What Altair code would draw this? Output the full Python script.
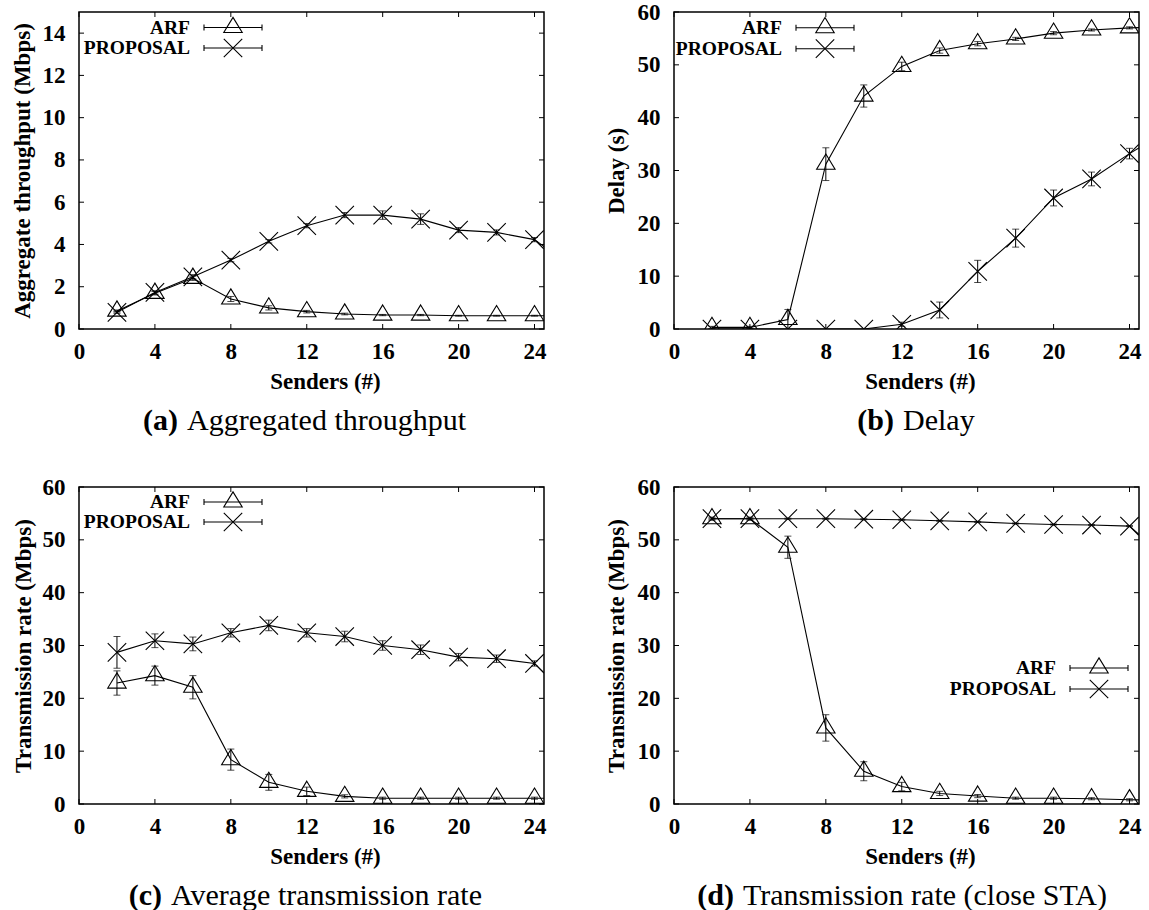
import altair as alt
import pandas as pd

# ---------------- data ----------------
SENDERS = [2, 4, 6, 8, 10, 12, 14, 16, 18, 20, 22, 24, 26]
SERIES = ["ARF", "PROPOSAL"]
X_TICKS = [0, 4, 8, 12, 16, 20, 24]
Y_TICKS_A = [0, 2, 4, 6, 8, 10, 12, 14]
Y_TICKS_60 = [0, 10, 20, 30, 40, 50, 60]

# (a) Aggregated throughput (Mbps)
A_ARF = [0.85, 1.69, 2.40, 1.42, 1.00, 0.82, 0.71, 0.66, 0.66, 0.63, 0.63, 0.63, 0.63]
A_ARF_ERR = [0.05, 0.08, 0.10, 0.12, 0.10, 0.06, 0.04, 0.03, 0.03, 0.02, 0.02, 0.02, 0]
A_PRO = [0.79, 1.73, 2.47, 3.26, 4.15, 4.89, 5.39, 5.39, 5.20, 4.68, 4.57, 4.23, 2.90]
A_PRO_ERR = [0.05, 0.08, 0.10, 0.08, 0.08, 0.10, 0.12, 0.20, 0.25, 0.12, 0.12, 0.10, 0]

# (b) Delay (s)
B_ARF = [0.3, 0.3, 1.8, 31.2, 44.1, 49.7, 52.7, 54.0, 54.9, 56.0, 56.6, 57.0, 57.2]
B_ARF_ERR = [0.2, 0.2, 1.9, 3.1, 2.1, 0.8, 0.5, 0.4, 0.3, 0.3, 0.2, 0.2, 0]
B_PRO = [0.0, 0.0, 0.0, 0.0, 0.0, 0.9, 3.6, 10.9, 17.2, 24.8, 28.4, 33.2, 37.6]
B_PRO_ERR = [0, 0, 0, 0, 0, 0.4, 1.5, 2.1, 1.7, 1.5, 1.3, 1.0, 0]

# (c) Average transmission rate (Mbps)
C_ARF = [22.9, 24.3, 22.1, 8.4, 4.1, 2.4, 1.45, 1.1, 1.1, 1.1, 1.1, 1.1, 1.1]
C_ARF_ERR = [2.3, 1.8, 2.2, 2.0, 1.5, 0.8, 0.3, 0.2, 0.2, 0.2, 0.2, 0.2, 0]
C_PRO = [28.7, 30.9, 30.3, 32.4, 33.8, 32.4, 31.7, 30.0, 29.2, 27.8, 27.5, 26.6, 19.4]
C_PRO_ERR = [3.0, 1.3, 1.3, 0.8, 1.0, 0.8, 1.0, 0.9, 0.9, 0.7, 0.7, 0.5, 0]

# (d) Transmission rate, close STA (Mbps)
D_ARF = [54.0, 54.0, 48.6, 14.4, 6.2, 3.3, 2.0, 1.5, 1.1, 1.1, 1.0, 0.8, 0.7]
D_ARF_ERR = [0.3, 0.3, 2.1, 2.5, 1.8, 0.8, 0.4, 0.3, 0.2, 0.2, 0.2, 0.2, 0]
D_PRO = [54.0, 54.0, 54.0, 54.0, 53.9, 53.8, 53.6, 53.4, 53.1, 52.9, 52.8, 52.6, 46.2]
D_PRO_ERR = [0.1, 0.1, 0.1, 0.1, 0.1, 0.1, 0.1, 0.1, 0.1, 0.1, 0.1, 0.1, 0]

# ---------------- styling ----------------
TRI = "M0,-1.1L1,0.55L-1,0.55Z"
CROSS = "M-1,-1L1,1M-1,1L1,-1"
SHAPES = [TRI, CROSS]
W, H = 465, 317
FONT = "Liberation Serif, Times New Roman, serif"
TICK = 5


def frame(arf, arf_err, pro, pro_err):
    rows = []
    for name, vals, errs in (("ARF", arf, arf_err), ("PROPOSAL", pro, pro_err)):
        for s, v, e in zip(SENDERS, vals, errs):
            rows.append({"senders": s, "value": v, "err": e,
                         "lo": v - e, "hi": v + e, "series": name})
    return pd.DataFrame(rows)


def panel(df, ymax, yticks, ytitle, tag, caption, text_left,
          leg_x, leg_y, ytitle_x):
    xscale = alt.Scale(domain=[0, 24.5], nice=False, zero=False)
    yscale = alt.Scale(domain=[0, ymax], nice=False, zero=False)
    xaxis = alt.Axis(values=X_TICKS, title="Senders (#)", grid=False,
                     domain=False, ticks=False, tickSize=0, labelPadding=11,
                     labelFont=FONT, labelFontWeight="bold", labelFontSize=23,
                     labelColor="black", labelFlush=False, format="d",
                     titleFont=FONT, titleFontWeight="bold", titleFontSize=23,
                     titleColor="black", titleX=246, titleY=52,
                     titleAlign="center", titleBaseline="middle")
    yaxis = alt.Axis(values=yticks, title=ytitle, grid=False,
                     domain=False, ticks=False, tickSize=0, labelPadding=14,
                     labelFont=FONT, labelFontWeight="bold", labelFontSize=23,
                     labelColor="black", labelFlush=False, format="d",
                     titleFont=FONT, titleFontWeight="bold", titleFontSize=23,
                     titleColor="black", titleX=ytitle_x, titleY=H / 2,
                     titleAngle=270, titleAlign="center",
                     titleBaseline="middle")

    def X(f):
        return alt.X(f, type="quantitative", scale=xscale, axis=xaxis)

    def Y(f):
        return alt.Y(f, type="quantitative", scale=yscale, axis=yaxis)

    base = alt.Chart(df)
    errdf = base.transform_filter("datum.err > 0")
    layers = []

    # inward ticks on all four sides
    xt = alt.Chart(pd.DataFrame({"t": X_TICKS}))
    yt = alt.Chart(pd.DataFrame({"t": yticks}))
    layers.append(xt.mark_rule(color="black", strokeWidth=1).encode(
        x=X("t"), y=alt.value(H), y2=alt.value(H - TICK)))
    layers.append(xt.mark_rule(color="black", strokeWidth=1).encode(
        x=X("t"), y=alt.value(0), y2=alt.value(TICK)))
    layers.append(yt.mark_rule(color="black", strokeWidth=1).encode(
        y=Y("t"), x=alt.value(0), x2=alt.value(TICK)))
    layers.append(yt.mark_rule(color="black", strokeWidth=1).encode(
        y=Y("t"), x=alt.value(W), x2=alt.value(W - TICK)))

    layers.append(base.mark_line(color="black", strokeWidth=1.1, clip=True).encode(
        x=X("senders"), y=Y("value"), detail="series:N"))
    layers.append(errdf.mark_rule(color="black", strokeWidth=1, clip=True).encode(
        x=X("senders"), y=Y("lo"), y2="hi:Q"))
    for f in ("lo", "hi"):
        layers.append(errdf.mark_tick(orient="horizontal", size=7, thickness=1,
                                      color="black", clip=True).encode(
            x=X("senders"), y=Y(f)))
    layers.append(base.mark_point(filled=False, color="black", strokeWidth=1.1,
                                  size=340, opacity=1, clip=True).encode(
        x=X("senders"), y=Y("value"),
        shape=alt.Shape("series:N", scale=alt.Scale(domain=SERIES, range=SHAPES),
                        legend=None)))

    # key (gnuplot style: label, line with end bars, symbol)
    for name, shp, ly in zip(SERIES, SHAPES, leg_y):
        d = alt.Chart(pd.DataFrame({"label": [name]}))
        x1, x2 = leg_x + 14, leg_x + 72
        layers.append(d.mark_text(align="right", baseline="middle", font=FONT,
                                  fontWeight="bold", fontSize=19.5, color="black").encode(
            x=alt.value(leg_x), y=alt.value(ly), text="label:N"))
        layers.append(d.mark_rule(color="black", strokeWidth=1.1).encode(
            x=alt.value(x1), x2=alt.value(x2), y=alt.value(ly)))
        for xx in (x1, x2):
            layers.append(d.mark_rule(color="black", strokeWidth=1.1).encode(
                x=alt.value(xx), y=alt.value(ly - 3), y2=alt.value(ly + 3)))
        layers.append(d.mark_point(shape=shp, filled=False, color="black",
                                   strokeWidth=1.1, size=340, opacity=1).encode(
            x=alt.value((x1 + x2) / 2), y=alt.value(ly)))

    # sub-figure caption
    cap = alt.Chart(pd.DataFrame({"tag": [tag], "cap": [caption]}))
    layers.append(cap.mark_text(align="right", baseline="alphabetic", font=FONT,
                                fontWeight="bold", fontSize=30, color="black").encode(
        x=alt.value(text_left - 9), y=alt.value(H + 101), text="tag:N"))
    layers.append(cap.mark_text(align="left", baseline="alphabetic", font=FONT,
                                fontSize=30, color="black").encode(
        x=alt.value(text_left), y=alt.value(H + 101), text="cap:N"))

    return alt.layer(*layers).properties(width=W, height=H)


pa = panel(frame(A_ARF, A_ARF_ERR, A_PRO, A_PRO_ERR), 15, Y_TICKS_A,
           "Aggregate throughput (Mbps)", "(a)", "Aggregated throughput",
           108, 111, [15.5, 36], -57)
pb = panel(frame(B_ARF, B_ARF_ERR, B_PRO, B_PRO_ERR), 60, Y_TICKS_60,
           "Delay (s)", "(b)", "Delay", 229, 108, [15.7, 36.7], -58)
pc = panel(frame(C_ARF, C_ARF_ERR, C_PRO, C_PRO_ERR), 60, Y_TICKS_60,
           "Transmission rate (Mbps)", "(c)", "Average transmission rate",
           92, 111, [15, 35], -56)
pd_ = panel(frame(D_ARF, D_ARF_ERR, D_PRO, D_PRO_ERR), 60, Y_TICKS_60,
            "Transmission rate (Mbps)", "(d)", "Transmission rate (close STA)",
            69, 382, [181, 202], -58)

chart = alt.concat(pa, pb, pc, pd_, columns=2,
                   spacing={"row": 158, "column": 130}, bounds="flush").properties(
    padding={"left": 10, "top": 0, "right": 0, "bottom": 0},
    background="white",
).configure_view(stroke="black", strokeWidth=1.5).resolve_scale(
    x="independent", y="independent", shape="independent")

chart.save("out.html", embed_options={"renderer": "svg", "actions": False})
